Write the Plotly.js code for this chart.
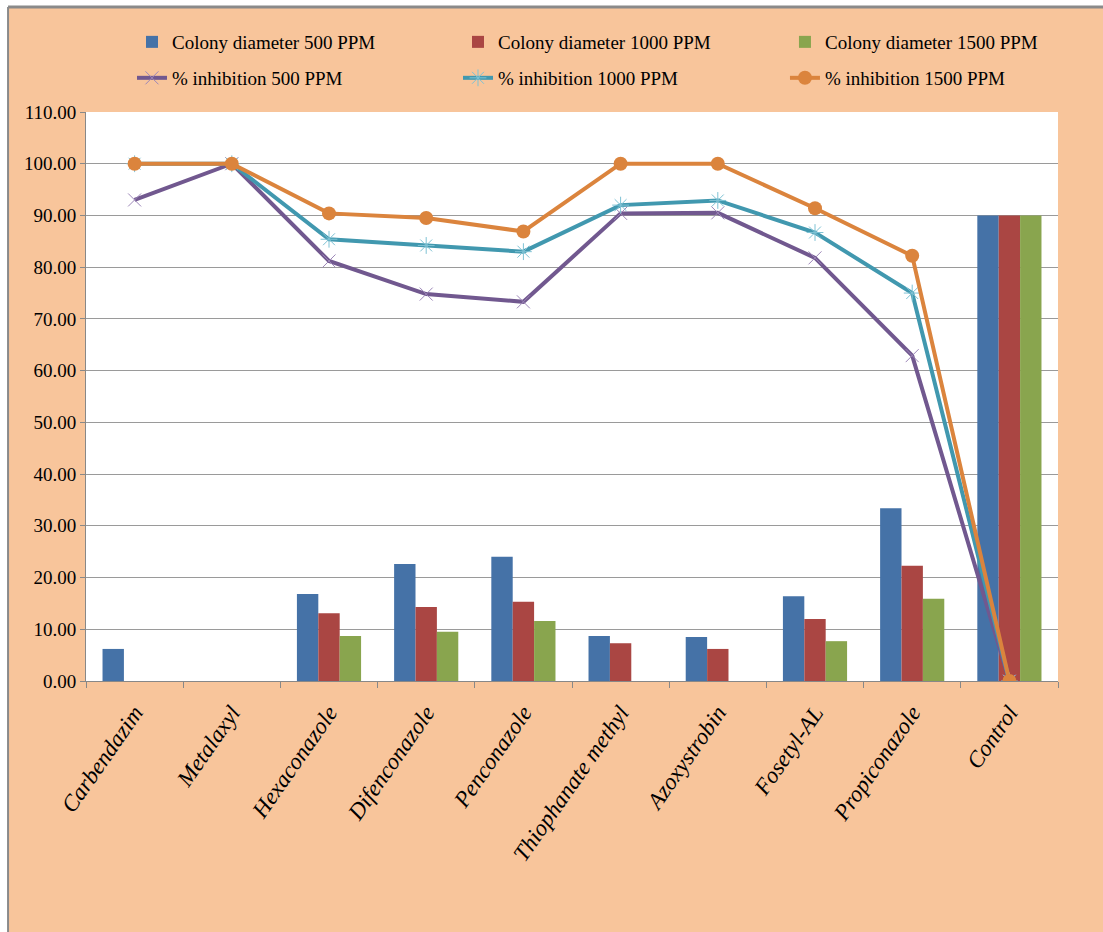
<!DOCTYPE html>
<html>
<head>
<meta charset="utf-8">
<script src="https://cdn.plot.ly/plotly-3.0.1.min.js"></script>
<style>html,body{margin:0;padding:0;background:#F8C59B;}#chart{width:1103px;height:932px;}</style>
</head>
<body>
<div id="chart"></div>
<script>
var categories = ["Carbendazim","Metalaxyl","Hexaconazole","Difenconazole","Penconazole","Thiophanate methyl","Azoxystrobin","Fosetyl-AL","Propiconazole","Control"];
var colony500  = [6.2, 0, 16.8, 22.6, 24.0, 8.7, 8.5, 16.4, 33.4, 90.0];
var colony1000 = [0, 0, 13.1, 14.3, 15.3, 7.3, 6.2, 12.0, 22.3, 90.0];
var colony1500 = [0, 0, 8.7, 9.5, 11.6, 0, 0, 7.7, 15.9, 90.0];
var inhib500  = [93.0, 100.0, 81.2, 74.8, 73.3, 90.4, 90.5, 81.8, 62.9, 0];
var inhib1000 = [100.0, 100.0, 85.4, 84.2, 83.0, 92.0, 92.9, 86.7, 75.0, 0];
var inhib1500 = [100.0, 100.0, 90.4, 89.5, 86.9, 100.0, 100.0, 91.4, 82.2, 0];
var seriesNames = ["Colony diameter 500 PPM","Colony diameter 1000 PPM","Colony diameter 1500 PPM","% inhibition 500 PPM","% inhibition 1000 PPM","% inhibition 1500 PPM"];

var fontFam = "Liberation Serif, Times New Roman, serif";
var traces = [
  {type:"bar", x:categories, y:colony500, name:seriesNames[0], marker:{color:"#4572A7"}, legend:"legend"},
  {type:"bar", x:categories, y:colony1000, name:seriesNames[1], marker:{color:"#AA4643"}, legend:"legend2"},
  {type:"bar", x:categories, y:colony1500, name:seriesNames[2], marker:{color:"#89A54E"}, legend:"legend3"},
  {type:"scatter", mode:"lines+markers", x:categories, y:inhib500, name:seriesNames[3], legend:"legend4",
    line:{color:"#71588F", width:4}, marker:{symbol:"x-thin-open", size:13, color:"#9C86B8", line:{width:1, color:"#9C86B8"}}},
  {type:"scatter", mode:"lines+markers", x:categories, y:inhib1000, name:seriesNames[4], legend:"legend5",
    line:{color:"#4198AF", width:4}, marker:{symbol:"asterisk-open", size:14, color:"#7EC2D4", line:{width:1, color:"#7EC2D4"}}},
  {type:"scatter", mode:"lines+markers", x:categories, y:inhib1500, name:seriesNames[5], legend:"legend6",
    line:{color:"#DB843D", width:4}, marker:{symbol:"circle", size:14, color:"#DB843D"}}
];

function mkLegend(x, y) {
  return {orientation:"h", x:x, xanchor:"left", y:y, yanchor:"middle",
    bgcolor:"rgba(0,0,0,0)", font:{family:fontFam, size:19, color:"#000"}, itemwidth:30};
}
var colX = [0.0473, 0.3827, 0.7191];
var rowY = [1.123, 1.0598];

var layout = {
  width:1103, height:932,
  margin:{l:86, r:45, t:112, b:251},
  paper_bgcolor:"#F8C59B",
  plot_bgcolor:"#FFFFFF",
  barmode:"group",
  bargap:0.34,
  bargroupgap:0,
  showlegend:true,
  legend:mkLegend(colX[0], rowY[0]),
  legend2:mkLegend(colX[1], rowY[0]),
  legend3:mkLegend(colX[2], rowY[0]),
  legend4:mkLegend(colX[0], rowY[1]),
  legend5:mkLegend(colX[1], rowY[1]),
  legend6:mkLegend(colX[2], rowY[1]),
  xaxis:{type:"category", range:[-0.5, 9.5], tickson:"boundaries", ticks:"outside", ticklen:6, tickcolor:"#888",
    showline:true, linecolor:"#888", linewidth:1, showgrid:false, tickangle:-55, automargin:false,
    ticklabelstandoff:8,
    tickfont:{family:fontFam, size:23, color:"#000", style:"italic"}, fixedrange:true},
  yaxis:{range:[0,110], dtick:10, tickformat:".2f", ticks:"outside", ticklen:5, tickcolor:"#888",
    showline:true, linecolor:"#888", linewidth:1, showgrid:true, gridcolor:"#9a9a9a", gridwidth:1,
    zeroline:false, automargin:false, tickfont:{family:fontFam, size:19, color:"#000"}, fixedrange:true},
  shapes:[
    {type:"rect", xref:"paper", yref:"paper", x0:-0.2, x1:1.1, y0:1.1845, y1:1.25, fillcolor:"#FFFFFF", line:{width:0}, layer:"below"},
    {type:"rect", xref:"paper", yref:"paper", x0:-0.2, x1:-0.0802, y0:-0.5, y1:1.25, fillcolor:"#FFFFFF", line:{width:0}, layer:"below"},
    {type:"line", xref:"paper", yref:"paper", x0:-0.0802, x1:1.1, y0:1.1845, y1:1.1845, line:{color:"#8a8a8a", width:3}},
    {type:"line", xref:"paper", yref:"paper", x0:-0.0802, x1:-0.0802, y0:-0.5, y1:1.1845, line:{color:"#8a8a8a", width:2}}
  ]
};

Plotly.newPlot("chart", traces, layout, {displayModeBar:false, staticPlot:true});
</script>
</body>
</html>
